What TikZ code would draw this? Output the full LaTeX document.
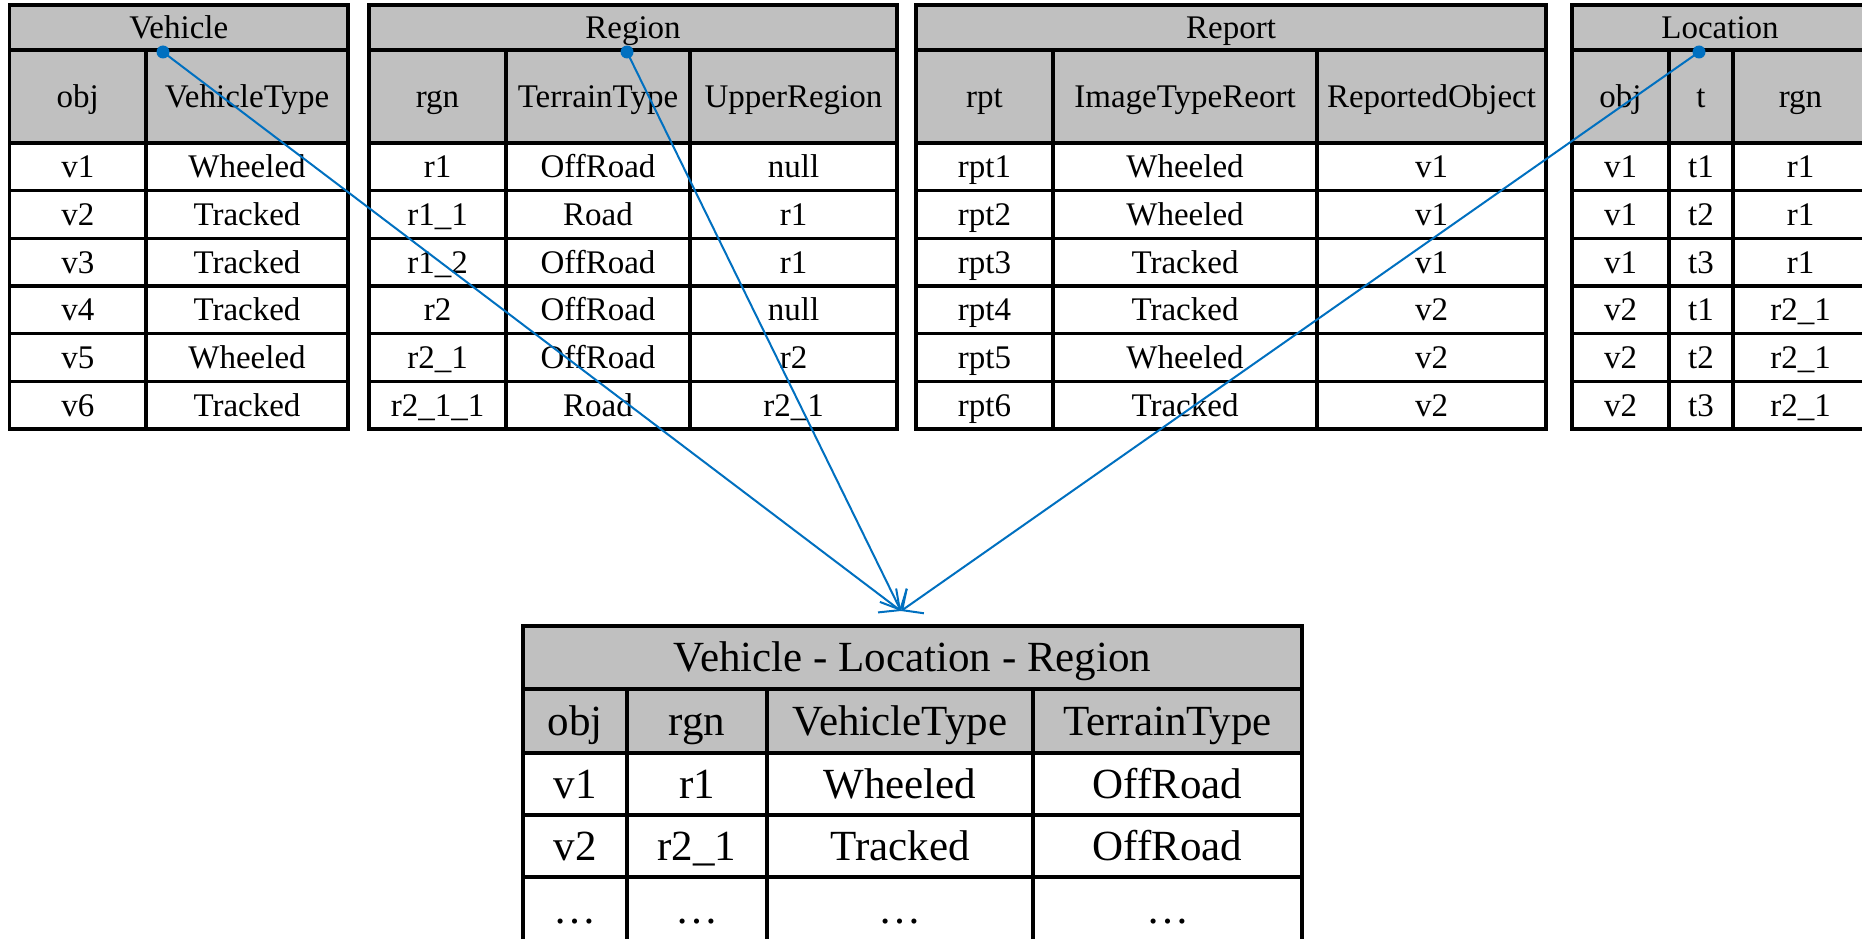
\documentclass[tikz,border=0pt]{standalone}
\usepackage{fontspec}
\setmainfont{Liberation Serif}
\usetikzlibrary{arrows.meta}

\definecolor{hdrgray}{HTML}{C0C0C0}
\definecolor{linkblue}{HTML}{0070C0}

\tikzset{
  cell/.style={draw=black, line width=3.2pt, inner sep=0pt, outer sep=0pt, align=center},
  small/.style={font=\fontsize{33}{38}\selectfont, text height=26.4pt, text depth=4.6pt},
  large/.style={font=\fontsize{43}{48}\selectfont, text height=34.4pt, text depth=6pt},
  headcell/.style={cell, fill=hdrgray},
  bodycell/.style={cell, fill=white},
  link/.style={draw=linkblue, line width=2pt, -{Straight Barb[length=16pt,width=30pt]}},
  pin/.style={fill=linkblue},
}

% One row of cells: #1 name prefix, #2 top, #3 bottom, #4 style, #5 list left/right/text
\newcommand{\cellrow}[5]{%
  \foreach \xa/\xb/\txt [count=\ci] in {#5} {
    \node[#4, minimum width={(\xb-\xa)*1pt}, minimum height={(#3-#2)*1pt}]
      (#1-\ci) at ({(\xa+\xb)/2},{(#2+#3)/2}) {\txt};
  }%
}

\begin{document}
\begin{tikzpicture}[x=1pt,y=-1pt]
\useasboundingbox (0,0) rectangle (1862,939);
\fill[white] (0,0) rectangle (1862,939);
\clip (0,0) rectangle (1862,939);

% ---------------- Vehicle ----------------
\cellrow{veh-t}{5}{50}{headcell,small}{9.5/348/Vehicle}
\cellrow{veh-h}{50}{143}{headcell,small}{9.5/146/obj, 146/348/VehicleType}
\cellrow{veh-r1}{143}{190.7}{bodycell,small}{9.5/146/v1, 146/348/Wheeled}
\cellrow{veh-r2}{190.7}{238.3}{bodycell,small}{9.5/146/v2, 146/348/Tracked}
\cellrow{veh-r3}{238.3}{286}{bodycell,small}{9.5/146/v3, 146/348/Tracked}
\cellrow{veh-r4}{286}{333.7}{bodycell,small}{9.5/146/v4, 146/348/Tracked}
\cellrow{veh-r5}{333.7}{381.3}{bodycell,small}{9.5/146/v5, 146/348/Wheeled}
\cellrow{veh-r6}{381.3}{429}{bodycell,small}{9.5/146/v6, 146/348/Tracked}

% ---------------- Region ----------------
\cellrow{rgn-t}{5}{50}{headcell,small}{369/897/Region}
\cellrow{rgn-h}{50}{143}{headcell,small}{369/506/rgn, 506/690/TerrainType, 690/897/UpperRegion}
\cellrow{rgn-r1}{143}{190.7}{bodycell,small}{369/506/r1, 506/690/OffRoad, 690/897/null}
\cellrow{rgn-r2}{190.7}{238.3}{bodycell,small}{369/506/r1\_1, 506/690/Road, 690/897/r1}
\cellrow{rgn-r3}{238.3}{286}{bodycell,small}{369/506/r1\_2, 506/690/OffRoad, 690/897/r1}
\cellrow{rgn-r4}{286}{333.7}{bodycell,small}{369/506/r2, 506/690/OffRoad, 690/897/null}
\cellrow{rgn-r5}{333.7}{381.3}{bodycell,small}{369/506/r2\_1, 506/690/OffRoad, 690/897/r2}
\cellrow{rgn-r6}{381.3}{429}{bodycell,small}{369/506/r2\_1\_1, 506/690/Road, 690/897/r2\_1}

% ---------------- Report ----------------
\cellrow{rpt-t}{5}{50}{headcell,small}{916/1546/Report}
\cellrow{rpt-h}{50}{143}{headcell,small}{916/1053/rpt, 1053/1317/ImageTypeReort, 1317/1546/ReportedObject}
\cellrow{rpt-r1}{143}{190.7}{bodycell,small}{916/1053/rpt1, 1053/1317/Wheeled, 1317/1546/v1}
\cellrow{rpt-r2}{190.7}{238.3}{bodycell,small}{916/1053/rpt2, 1053/1317/Wheeled, 1317/1546/v1}
\cellrow{rpt-r3}{238.3}{286}{bodycell,small}{916/1053/rpt3, 1053/1317/Tracked, 1317/1546/v1}
\cellrow{rpt-r4}{286}{333.7}{bodycell,small}{916/1053/rpt4, 1053/1317/Tracked, 1317/1546/v2}
\cellrow{rpt-r5}{333.7}{381.3}{bodycell,small}{916/1053/rpt5, 1053/1317/Wheeled, 1317/1546/v2}
\cellrow{rpt-r6}{381.3}{429}{bodycell,small}{916/1053/rpt6, 1053/1317/Tracked, 1317/1546/v2}

% ---------------- Location ----------------
\cellrow{loc-t}{5}{50}{headcell,small}{1572/1868/Location}
\cellrow{loc-h}{50}{143}{headcell,small}{1572/1669/obj, 1669/1733/t, 1733/1868/rgn}
\cellrow{loc-r1}{143}{190.7}{bodycell,small}{1572/1669/v1, 1669/1733/t1, 1733/1868/r1}
\cellrow{loc-r2}{190.7}{238.3}{bodycell,small}{1572/1669/v1, 1669/1733/t2, 1733/1868/r1}
\cellrow{loc-r3}{238.3}{286}{bodycell,small}{1572/1669/v1, 1669/1733/t3, 1733/1868/r1}
\cellrow{loc-r4}{286}{333.7}{bodycell,small}{1572/1669/v2, 1669/1733/t1, 1733/1868/r2\_1}
\cellrow{loc-r5}{333.7}{381.3}{bodycell,small}{1572/1669/v2, 1669/1733/t2, 1733/1868/r2\_1}
\cellrow{loc-r6}{381.3}{429}{bodycell,small}{1572/1669/v2, 1669/1733/t3, 1733/1868/r2\_1}

% ---------------- Joined view ----------------
\cellrow{vlr-t}{626}{689}{headcell,large}{523/1302/Vehicle - Location - Region}
\cellrow{vlr-h}{689}{753}{headcell,large}{523/627/obj, 627/767/rgn, 767/1033/VehicleType, 1033/1302/TerrainType}
\cellrow{vlr-r1}{753}{815}{bodycell,large}{523/627/v1, 627/767/r1, 767/1033/Wheeled, 1033/1302/OffRoad}
\cellrow{vlr-r2}{815}{877}{bodycell,large}{523/627/v2, 627/767/r2\_1, 767/1033/Tracked, 1033/1302/OffRoad}
\cellrow{vlr-r3}{877}{942}{bodycell,large}{523/627/…, 627/767/…, 767/1033/…, 1033/1302/…}

% ---------------- Links into the joined view ----------------
\coordinate (vehPin) at (163,52);
\coordinate (rgnPin) at (627,52);
\coordinate (locPin) at (1699,52);
\coordinate (join) at (901,611);

\draw[link] (vehPin) -- (join);
\draw[link] (rgnPin) -- (join);
\draw[link] (locPin) -- (join);

\fill[pin] (vehPin) circle[radius=6.5pt];
\fill[pin] (rgnPin) circle[radius=6.5pt];
\fill[pin] (locPin) circle[radius=6.5pt];
\end{tikzpicture}
\end{document}
